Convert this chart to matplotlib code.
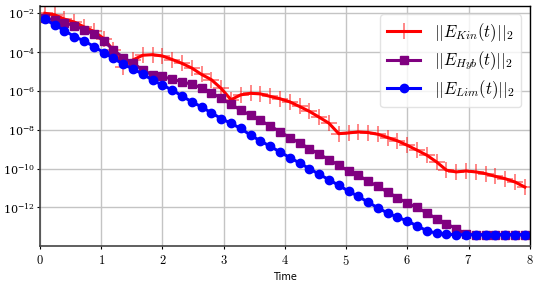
import numpy as np
import matplotlib
matplotlib.use("Agg")
import matplotlib.pyplot as plt

plt.rcParams['mathtext.fontset'] = 'cm'
plt.rcParams['font.family'] = 'serif'
plt.rcParams['font.serif'] = ['DejaVu Serif']

# time samples (cell midpoints)
t = 0.08 + 0.16 * np.arange(50)

# log10 of the errors
log_kin = [-2.0, -2.08, -2.3, -2.45, -2.7, -2.93, -3.3, -3.9, -4.75, -4.4,
           -4.16, -4.13, -4.2, -4.38, -4.58, -4.82, -5.15, -5.42, -5.87, -6.45,
           -6.2, -6.12, -6.15, -6.28, -6.4, -6.56, -6.8, -7.05, -7.35, -7.66,
           -8.2, -8.16, -8.11, -8.14, -8.23, -8.4, -8.57, -8.8, -9.05, -9.31,
           -9.66, -10.08, -10.17, -10.12, -10.17, -10.26, -10.4, -10.52, -10.69, -10.95]
log_hyb = [-2.25, -2.34, -2.5, -2.63, -2.85, -3.07, -3.42, -3.89, -4.28, -4.57,
           -4.92, -5.18, -5.25, -5.4, -5.52, -5.66, -5.83, -6.09, -6.38, -6.68,
           -6.99, -7.25, -7.52, -7.8, -8.1, -8.4, -8.68, -8.97, -9.26, -9.53,
           -9.83, -10.12, -10.35, -10.64, -10.92, -11.21, -11.5, -11.78, -12.0, -12.29,
           -12.58, -12.84, -13.1, -13.36, -13.4, -13.4, -13.4, -13.4, -13.4, -13.4]
log_lim = [-2.3, -2.6, -2.89, -3.2, -3.42, -3.71, -4.02, -4.32, -4.62, -4.87,
           -5.13, -5.44, -5.7, -5.95, -6.26, -6.56, -6.82, -7.13, -7.42, -7.67,
           -7.93, -8.28, -8.57, -8.85, -9.14, -9.43, -9.71, -10.0, -10.29, -10.57,
           -10.86, -11.16, -11.43, -11.73, -12.02, -12.29, -12.5, -12.7, -12.95, -13.2,
           -13.33, -13.38, -13.4, -13.4, -13.4, -13.4, -13.4, -13.4, -13.4, -13.4]

yticks = [1e-2, 1e-4, 1e-6, 1e-8, 1e-10, 1e-12]

fig = plt.figure(figsize=(5.4, 2.82), dpi=100)
ax = fig.add_axes([0.074, 0.128, 0.907, 0.851])

ax.semilogy(t, 10.0**np.array(log_kin), '-', color='red', lw=2.2, marker='+',
            ms=11, mew=1.2, mec=(1, 0, 0, 0.55), label=r'$||E_{Kin}(t)||_2$')
ax.semilogy(t, 10.0**np.array(log_hyb), '-', color='purple', lw=2.2, marker='s',
            ms=6, label=r'$||E_{Hyb}(t)||_2$')
ax.semilogy(t, 10.0**np.array(log_lim), '-', color='blue', lw=2.2, marker='o',
            ms=6, label=r'$||E_{Lim}(t)||_2$')

ax.set_xlim(0, 8)
ax.set_ylim(10**-13.98, 10**-1.62)
ax.set_yticks(yticks)
ax.yaxis.set_minor_locator(matplotlib.ticker.NullLocator())
ax.set_xticks(range(9))
ax.set_xticklabels([r'$%d$' % i for i in range(9)])
ax.tick_params(axis='x', labelsize=9, length=2, width=0.8)
ax.tick_params(axis='y', labelsize=8, length=2, width=0.8, pad=1.5)
ax.grid(True, color='#c4c4c4', lw=1.0)
ax.set_axisbelow(True)
ax.set_xlabel('Time', fontsize=7, family='DejaVu Sans', labelpad=3)

for side in ['left', 'bottom']:
    ax.spines[side].set_color('#444444')
    ax.spines[side].set_linewidth(1.2)
for side in ['top', 'right']:
    ax.spines[side].set_color('black')
    ax.spines[side].set_linewidth(1.0)

ax.legend(loc='upper right', fontsize=12, framealpha=0.8, edgecolor='#dddddd',
          handlelength=2.0, borderpad=0.4, labelspacing=0.35)

fig.savefig('out.png', dpi=100)
